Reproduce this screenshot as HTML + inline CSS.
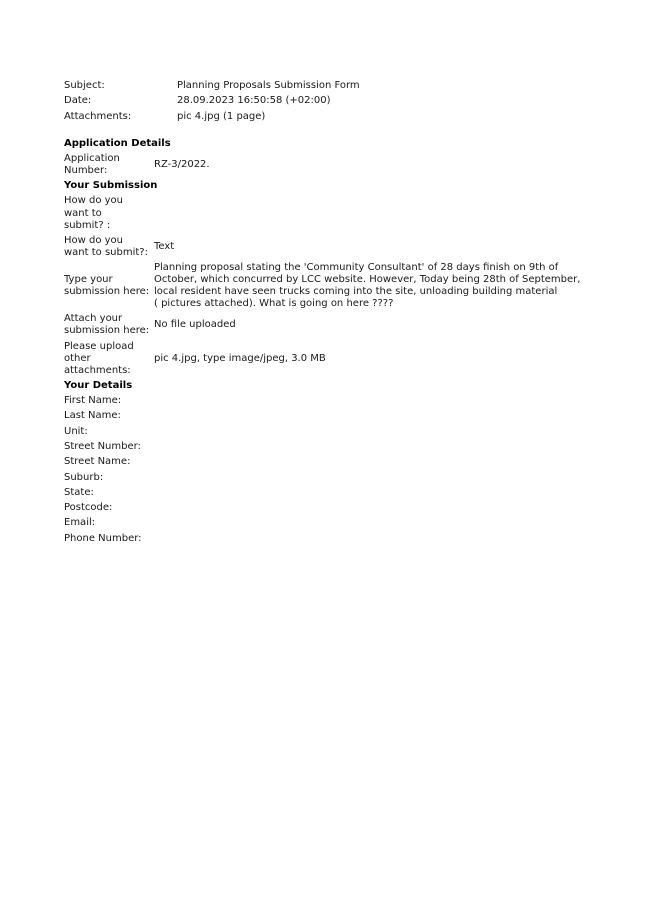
<!DOCTYPE html>
<html><head><meta charset="utf-8"><style>
body{margin:0;background:#fff;}
#p{position:relative;width:653px;height:924px;font-family:"DejaVu Sans",Verdana,sans-serif;font-size:10px;color:#1a1a1a;}
#p div{position:absolute;line-height:12px;white-space:nowrap;}
.b{font-weight:bold;color:#000;}
</style></head><body><div id="p">
<div style="left:64px;top:80px">Subject:</div>
<div style="left:177px;top:80px">Planning Proposals Submission Form</div>
<div style="left:64px;top:95px">Date:</div>
<div style="left:177px;top:95px">28.09.2023 16:50:58 (+02:00)</div>
<div style="left:64px;top:111px">Attachments:</div>
<div style="left:177px;top:111px">pic 4.jpg (1 page)</div>
<div class="b" style="left:64px;top:138px">Application Details</div>
<div style="left:64px;top:153px">Application</div>
<div style="left:64px;top:165px">Number:</div>
<div style="left:154px;top:159px">RZ-3/2022.</div>
<div class="b" style="left:64px;top:180px">Your Submission</div>
<div style="left:64px;top:195px">How do you</div>
<div style="left:64px;top:208px">want to</div>
<div style="left:64px;top:220px">submit? :</div>
<div style="left:64px;top:235px">How do you</div>
<div style="left:64px;top:247px">want to submit?:</div>
<div style="left:154px;top:241px">Text</div>
<div style="left:154px;top:262px">Planning proposal stating the 'Community Consultant' of 28 days finish on 9th of</div>
<div style="left:154px;top:274px">October, which concurred by LCC website. However, Today being 28th of September,</div>
<div style="left:154px;top:286px">local resident have seen trucks coming into the site, unloading building material</div>
<div style="left:154px;top:298px">( pictures attached). What is going on here ????</div>
<div style="left:64px;top:274px">Type your</div>
<div style="left:64px;top:286px">submission here:</div>
<div style="left:64px;top:313px">Attach your</div>
<div style="left:64px;top:325px">submission here:</div>
<div style="left:154px;top:319px">No file uploaded</div>
<div style="left:64px;top:341px">Please upload</div>
<div style="left:64px;top:353px">other</div>
<div style="left:64px;top:365px">attachments:</div>
<div style="left:154px;top:353px">pic 4.jpg, type image/jpeg, 3.0 MB</div>
<div class="b" style="left:64px;top:380px">Your Details</div>
<div style="left:64px;top:395px">First Name:</div>
<div style="left:64px;top:410px">Last Name:</div>
<div style="left:64px;top:426px">Unit:</div>
<div style="left:64px;top:441px">Street Number:</div>
<div style="left:64px;top:456px">Street Name:</div>
<div style="left:64px;top:472px">Suburb:</div>
<div style="left:64px;top:487px">State:</div>
<div style="left:64px;top:502px">Postcode:</div>
<div style="left:64px;top:517px">Email:</div>
<div style="left:64px;top:533px">Phone Number:</div>
</div></body></html>
